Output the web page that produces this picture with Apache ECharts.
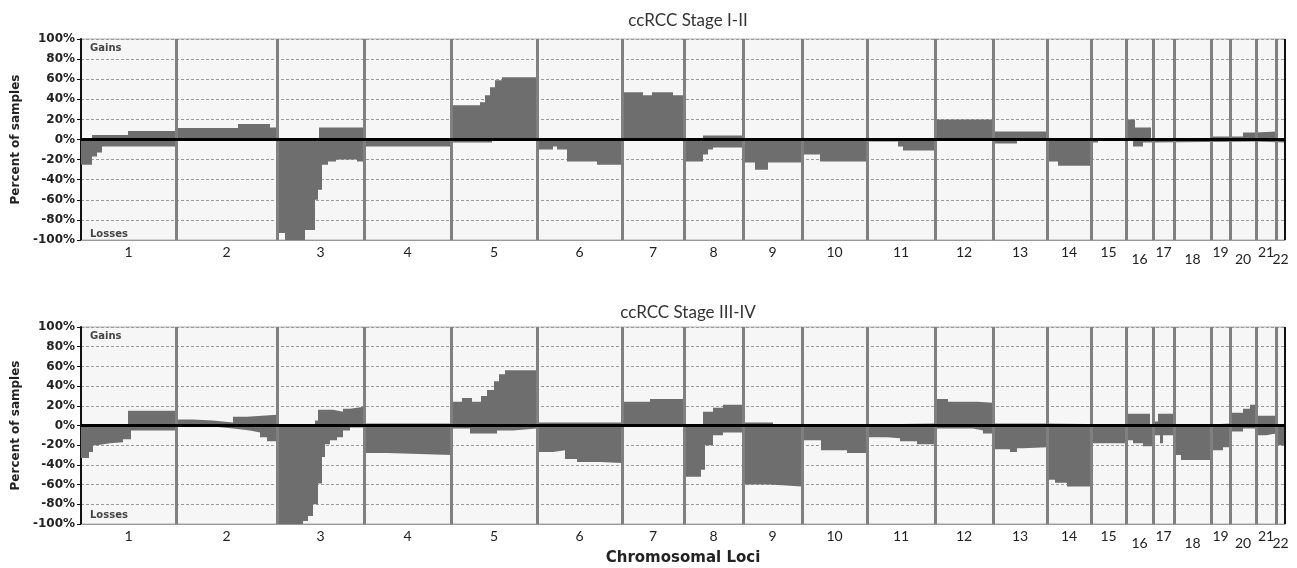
<!DOCTYPE html>
<html>
<head>
<meta charset="utf-8">
<script src="https://cdn.jsdelivr.net/npm/echarts@6/dist/echarts.min.js"></script>
<style>
html, body { margin: 0; padding: 0; background: #fff; }
#chart { width: 1297px; height: 568px; }
</style>
</head>
<body>
<div id="chart"></div>
<script>
// chromosomes and their widths on the genome axis (probe-based units)
var chromNames = ['1', '2', '3', '4', '5', '6', '7', '8', '9', '10', '11',
    '12', '13', '14', '15', '16', '17', '18', '19', '20', '21', '22'];
var chromLengths = [95, 101, 87, 87, 86, 85, 62, 59, 59, 65, 68, 58, 54, 44, 35, 27, 21, 37, 19, 26, 20, 9];
var lowLabels = ['16', '18', '20', '22'];

// [genome position, percent] - each value holds until the next position
var earlyGains = [[0, 0], [11, 4.5], [47, 8.5], [95, 11.5], [157, 15.5], [189, 12], [196, 0], [238, 12],
    [283, 0], [370, 34], [399, 37], [404, 44], [409, 52], [414, 59], [421, 62], [456, 0], [541, 47],
    [562, 44], [571, 47], [592, 44], [603, 0], [622, 4], [662, 0], [854, 20], [912, 8], [966, 0],
    [1045, 20], [1054, 12], [1070, 0], [1130, 3], [1162, 7], [1175, 8], [1195, 0], [1204, 0]];
var earlyLosses = [[0, -25], [11, -17], [16, -13], [21, -7], [95, -1], [196, -93], [204, -100], [224, -90],
    [234, -60], [237, -50], [241, -25], [247, -22], [255, -20], [276, -22], [283, -7], [370, -3], [411, 0],
    [456, -10], [472, -7], [476, -10], [486, -22], [516, -25], [541, 0], [603, -22], [622, -15], [627, -10],
    [632, -8], [662, -23], [674, -30], [687, -23], [721, -15], [739, -22], [786, -2], [817, -7], [822, -11],
    [854, 0], [912, -4], [936, 0], [966, -22], [977, -26], [1010, -3], [1017, 0], [1052, -7], [1062, -3],
    [1072, -2], [1175, -3], [1204, -3]];
var lateGains = [[0, 1], [47, 15], [95, 6], [112, 5], [132, 3], [152, 9], [166, 11], [196, 1], [234, 5],
    [237, 16], [252, 14], [262, 17], [269, 19], [283, 2], [370, 24], [381, 28], [391, 24], [400, 30],
    [406, 36], [413, 45], [418, 52], [424, 56], [456, 3], [541, 24], [569, 27], [603, 0], [622, 14],
    [632, 18], [642, 21], [662, 3], [692, 0], [721, 2], [854, 27], [867, 24], [896, 23], [912, 2], [966, 1],
    [1045, 12], [1069, 0], [1072, 4], [1077, 12], [1093, 1], [1130, 2], [1149, 13], [1162, 17], [1169, 21],
    [1175, 10], [1195, 0], [1204, 0]];
var lateLosses = [[0, -33], [8, -27], [12, -20], [16, -18], [29, -17], [42, -14], [50, -5], [95, -1],
    [132, -3], [152, -5], [169, -7], [179, -12], [186, -16], [196, -100], [222, -97], [227, -92], [232, -80],
    [237, -59], [241, -32], [244, -19], [249, -15], [256, -12], [262, -5], [269, -2], [283, -28], [306, -30],
    [370, -3], [389, -8], [416, -5], [432, -3], [456, -27], [472, -25], [484, -34], [496, -37], [519, -38],
    [541, 0], [603, -52], [620, -45], [624, -20], [632, -10], [642, -7], [662, -60], [689, -62], [721, -15],
    [740, -25], [766, -28], [786, -12], [806, -13], [819, -16], [836, -19], [854, -3], [892, -5], [902, -8],
    [912, -24], [929, -27], [936, -23], [942, -22], [966, -55], [974, -58], [986, -62], [1010, -18],
    [1045, -15], [1052, -18], [1062, -21], [1072, -10], [1079, -18], [1082, -10], [1093, -30], [1100, -35],
    [1130, -25], [1142, -22], [1149, -6], [1162, -3], [1175, -10], [1185, -8], [1195, -20], [1204, -20]];

var panelTitles = ['ccRCC Stage I-II', 'ccRCC Stage III-IV'];

var bounds = [0];
var centers = [];
chromLengths.forEach(function (len, i) {
    centers.push(bounds[i] + len / 2);
    bounds.push(bounds[i] + len);
});
var genomeEnd = bounds[bounds.length - 1];

var fill = '#6e6e6e';
var labelFont = 'Lato';
var boldFont = 'DejaVu Sans';

function chromLabel(v) {
    var best = 0;
    for (var i = 1; i < centers.length; i++) {
        if (Math.abs(centers[i] - v) < Math.abs(centers[best] - v)) best = i;
    }
    return chromNames[best];
}

var normalCenters = centers.filter(function (c, i) { return lowLabels.indexOf(chromNames[i]) < 0; });
var lowCenters = centers.filter(function (c, i) { return lowLabels.indexOf(chromNames[i]) >= 0; });

var grids = [
    {left: 81, right: 12, top: 39, height: 201},
    {left: 81, right: 12, top: 327, height: 197}
];

var xAxes = [];
var yAxes = [];
var series = [];

grids.forEach(function (g, gi) {
    g.show = true;
    g.backgroundColor = '#f6f6f6';
    g.borderColor = '#b0b0b0';
    g.borderWidth = 1;

    xAxes.push({
        type: 'value', gridIndex: gi, min: 0, max: genomeEnd, position: 'bottom',
        name: gi === 1 ? 'Chromosomal Loci' : '',
        nameLocation: 'middle', nameGap: 27,
        nameTextStyle: {fontFamily: boldFont, fontWeight: 'bold', fontSize: 15, color: '#222'},
        axisLine: {show: true, onZero: false, lineStyle: {color: '#999', width: 1}},
        axisTick: {show: false},
        splitLine: {show: false},
        axisLabel: {
            customValues: normalCenters, margin: 5,
            fontFamily: labelFont, fontSize: 14, color: '#222',
            formatter: chromLabel
        }
    });
    xAxes.push({
        type: 'value', gridIndex: gi, min: 0, max: genomeEnd, position: 'bottom', offset: 0,
        axisLine: {show: false, onZero: false}, axisTick: {show: false}, splitLine: {show: false},
        axisLabel: {
            customValues: lowCenters, margin: 12,
            fontFamily: labelFont, fontSize: 14, color: '#222',
            formatter: chromLabel
        }
    });
    yAxes.push({
        type: 'value', gridIndex: gi, min: -100, max: 100, interval: 20,
        name: 'Percent of samples', nameLocation: 'middle', nameGap: 58,
        nameTextStyle: {fontFamily: boldFont, fontWeight: 'bold', fontSize: 12, color: '#222'},
        axisLine: {show: true, lineStyle: {color: '#111', width: 2}},
        axisTick: {show: true, length: 4, lineStyle: {color: '#111'}},
        axisLabel: {
            formatter: '{value}%', margin: 6,
            fontFamily: boldFont, fontWeight: 'bold', fontSize: 12, color: '#222'
        },
        splitLine: {show: true, lineStyle: {color: '#9a9a9a', width: 1, type: [3, 2]}}
    });

    var gains = gi === 0 ? earlyGains : lateGains;
    var losses = gi === 0 ? earlyLosses : lateLosses;
    [gains, losses].forEach(function (d) {
        series.push({
            type: 'line', xAxisIndex: gi * 2, yAxisIndex: gi,
            step: 'end', symbol: 'none', silent: true,
            lineStyle: {width: 0},
            areaStyle: {color: fill, opacity: 1},
            data: d
        });
    });

    var lines = bounds.slice(1, -1).map(function (b) {
        return {xAxis: b, lineStyle: {color: '#808080', width: 3, type: 'solid'}};
    });
    lines.push({xAxis: genomeEnd, lineStyle: {color: '#111', width: 2, type: 'solid'}});
    lines.push({yAxis: 0, lineStyle: {color: '#000', width: 3, type: 'solid'}});
    series.push({
        type: 'line', xAxisIndex: gi * 2, yAxisIndex: gi, z: 5,
        symbol: 'none', silent: true, data: [],
        markLine: {
            silent: true, symbol: 'none', animation: false,
            label: {show: false},
            data: lines
        }
    });
});

var option = {
    animation: false,
    backgroundColor: '#fff',
    title: [
        {text: panelTitles[0], left: 683, top: 7, textAlign: 'center',
            textStyle: {fontFamily: labelFont, fontSize: 17, fontWeight: 'normal', color: '#333'}},
        {text: panelTitles[1], left: 683, top: 299, textAlign: 'center',
            textStyle: {fontFamily: labelFont, fontSize: 17, fontWeight: 'normal', color: '#333'}}
    ],
    grid: grids,
    xAxis: xAxes,
    yAxis: yAxes,
    series: series,
    graphic: [
        {type: 'text', left: 90, top: 43, style: {text: 'Gains', font: 'bold 10px "DejaVu Sans"', fill: '#444'}},
        {type: 'text', left: 90, top: 229, style: {text: 'Losses', font: 'bold 10px "DejaVu Sans"', fill: '#444'}},
        {type: 'text', left: 90, top: 331, style: {text: 'Gains', font: 'bold 10px "DejaVu Sans"', fill: '#444'}},
        {type: 'text', left: 90, top: 510, style: {text: 'Losses', font: 'bold 10px "DejaVu Sans"', fill: '#444'}}
    ]
};

var chart = echarts.init(document.getElementById('chart'));
chart.setOption(option);
</script>
</body>
</html>
